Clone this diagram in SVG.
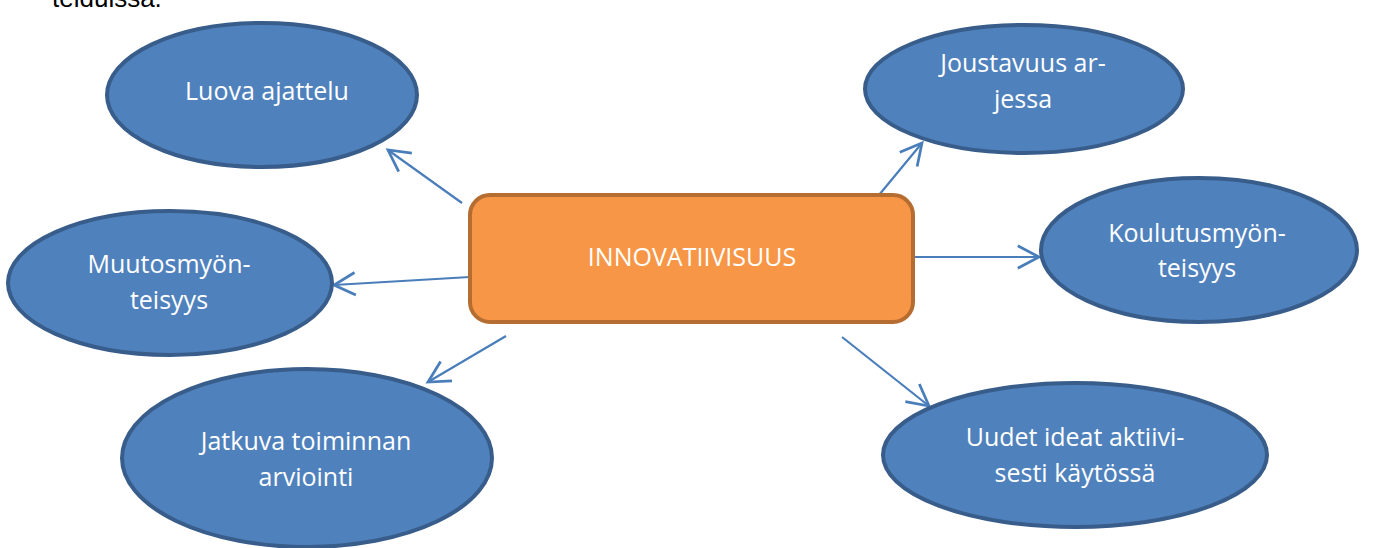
<svg xmlns="http://www.w3.org/2000/svg" width="1373" height="548" viewBox="0 0 1373 548">
<style>
.ell{fill:#4F81BD;stroke:#385D8A;stroke-width:4}
.lbl{font-family:"Open Sans","Liberation Sans",sans-serif;font-size:25px;fill:#FFFFFF;text-anchor:middle}
.con{stroke:#4A7EBB;stroke-width:2.2;fill:none;marker-end:url(#arr)}
</style>
<defs>
<marker id="arr" markerUnits="userSpaceOnUse" markerWidth="30" markerHeight="30" viewBox="-20 -12 24 24" refX="0" refY="0" orient="auto">
<path d="M-17,-9 L0,0 L-17,9" fill="none" stroke="#4A7EBB" stroke-width="2.2"/>
</marker>
</defs>
<rect width="1373" height="548" fill="#FFFFFF"/>
<text x="52" y="7" font-family="Liberation Sans, Arial, sans-serif" font-size="26" fill="#000000">teiduissa.</text>
<g id="connectors">
<line class="con" x1="462" y1="203" x2="388" y2="150"/>
<line class="con" x1="879" y1="195" x2="922" y2="143"/>
<line class="con" x1="913" y1="257" x2="1039" y2="257"/>
<line class="con" x1="470" y1="277" x2="334" y2="285"/>
<line class="con" x1="506" y1="336" x2="428" y2="382"/>
<line class="con" x1="842" y1="337" x2="929" y2="406"/>
</g>
<g id="center">
<rect x="470" y="195" width="443" height="127" rx="20" ry="20" fill="#F79646" stroke="#B66D31" stroke-width="4"/>
<text class="lbl" x="692" y="266">INNOVATIIVISUUS</text>
</g>
<g id="luova">
<ellipse class="ell" cx="262" cy="95" rx="155" ry="72"/>
<text class="lbl" x="267" y="100">Luova ajattelu</text>
</g>
<g id="muutos">
<ellipse class="ell" cx="170" cy="283" rx="162" ry="72"/>
<text class="lbl" x="169" y="273">Muutosmyön-</text>
<text class="lbl" x="169" y="309">teisyys</text>
</g>
<g id="jatkuva">
<ellipse class="ell" cx="307" cy="458" rx="185" ry="89"/>
<text class="lbl" x="306" y="450">Jatkuva toiminnan</text>
<text class="lbl" x="306" y="486">arviointi</text>
</g>
<g id="joustavuus">
<ellipse class="ell" cx="1024" cy="89" rx="159" ry="64"/>
<text class="lbl" x="1023" y="72">Joustavuus ar-</text>
<text class="lbl" x="1023" y="108">jessa</text>
</g>
<g id="koulutus">
<ellipse class="ell" cx="1199" cy="250" rx="158" ry="72"/>
<text class="lbl" x="1197" y="242">Koulutusmyön-</text>
<text class="lbl" x="1197" y="277">teisyys</text>
</g>
<g id="uudet">
<ellipse class="ell" cx="1075" cy="455" rx="192" ry="72"/>
<text class="lbl" x="1075" y="446">Uudet ideat aktiivi-</text>
<text class="lbl" x="1075" y="482">sesti käytössä</text>
</g>
</svg>
